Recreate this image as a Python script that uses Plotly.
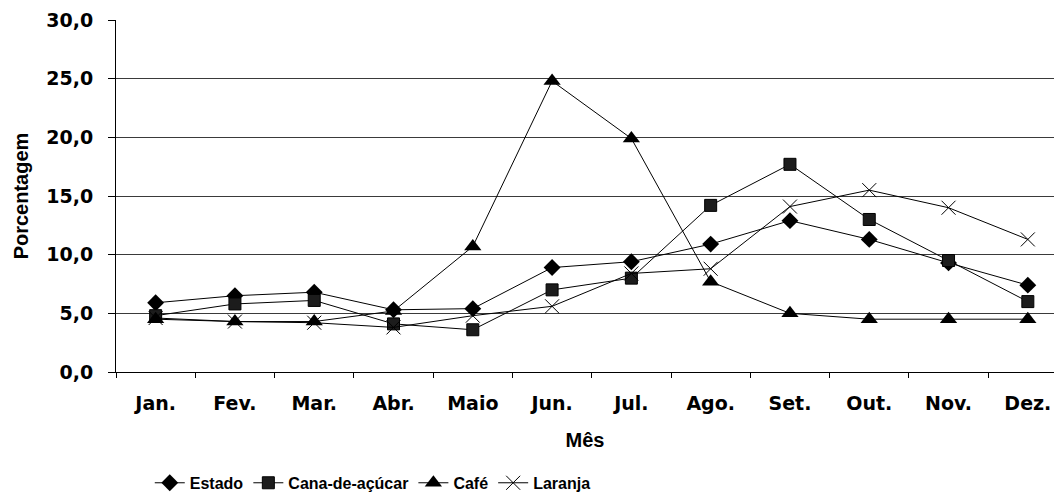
import plotly.graph_objects as go

meses = ["Jan.", "Fev.", "Mar.", "Abr.", "Maio", "Jun.", "Jul.", "Ago.", "Set.", "Out.", "Nov.", "Dez."]

estado = [5.9, 6.5, 6.8, 5.3, 5.4, 8.9, 9.4, 10.9, 12.9, 11.3, 9.3, 7.4]
cana = [4.8, 5.8, 6.1, 4.1, 3.6, 7.0, 8.0, 14.2, 17.7, 13.0, 9.5, 6.0]
cafe = [4.5, 4.3, 4.3, 5.2, 10.7, 24.8, 19.9, 7.7, 5.0, 4.5, 4.5, 4.5]
laranja = [4.6, 4.3, 4.2, 3.8, 4.8, 5.6, 8.4, 8.8, 14.1, 15.5, 14.0, 11.3]

yticks = [0, 5, 10, 15, 20, 25, 30]
ytick_text = ["0,0", "5,0", "10,0", "15,0", "20,0", "25,0", "30,0"]

TITLE_FONT = "Liberation Sans"
TICK_FONT = "DejaVu Sans"

fig = go.Figure()

series = [
    ("Estado", estado, dict(symbol="diamond", size=13, color="black")),
    ("Cana-de-açúcar", cana, dict(symbol="square", size=12, color="#1c1c1c",
                                   line=dict(color="black", width=1))),
    ("Café", cafe, dict(symbol="triangle-up", size=15, color="black")),
    ("Laranja", laranja, dict(symbol="x-thin", size=14, color="black",
                              line=dict(color="black", width=1))),
]

for name, vals, marker in series:
    fig.add_trace(go.Scatter(
        x=meses, y=vals, name=name, mode="lines+markers",
        line=dict(color="black", width=1),
        marker=marker,
    ))

fig.update_layout(
    width=1054, height=501,
    margin=dict(l=116, r=0, t=20, b=129),
    paper_bgcolor="white", plot_bgcolor="white",
    font=dict(family=TITLE_FONT, size=18, color="black", weight="bold"),
    showlegend=True,
    legend=dict(
        orientation="h", x=0.036, xanchor="left", y=-0.315, yanchor="middle",
        font=dict(family=TITLE_FONT, size=16, weight="bold"),
        itemwidth=30,
    ),
)

fig.update_xaxes(
    type="category", range=[-0.5, 11.33],
    showline=True, linecolor="black", linewidth=1,
    ticks="outside", tickson="boundaries", ticklen=5, tickcolor="black",
    ticklabelstandoff=14,
    showgrid=False, zeroline=False,
    tickfont=dict(family=TICK_FONT, size=19, weight="bold"),
    title=dict(text="Mês", font=dict(family=TITLE_FONT, size=20, weight="bold"), standoff=20),
)

fig.update_yaxes(
    range=[0, 30], tickvals=yticks, ticktext=ytick_text,
    showline=True, linecolor="black", linewidth=1,
    ticks="outside", ticklen=7, tickcolor="black",
    ticklabelstandoff=11,
    showgrid=True, gridcolor="#3a3a3a", gridwidth=1,
    zeroline=False,
    tickfont=dict(family=TICK_FONT, size=19, weight="bold"),
    title=dict(text="Porcentagem", font=dict(family=TITLE_FONT, size=20, weight="bold"), standoff=12),
)

fig.write_html("out.html")
